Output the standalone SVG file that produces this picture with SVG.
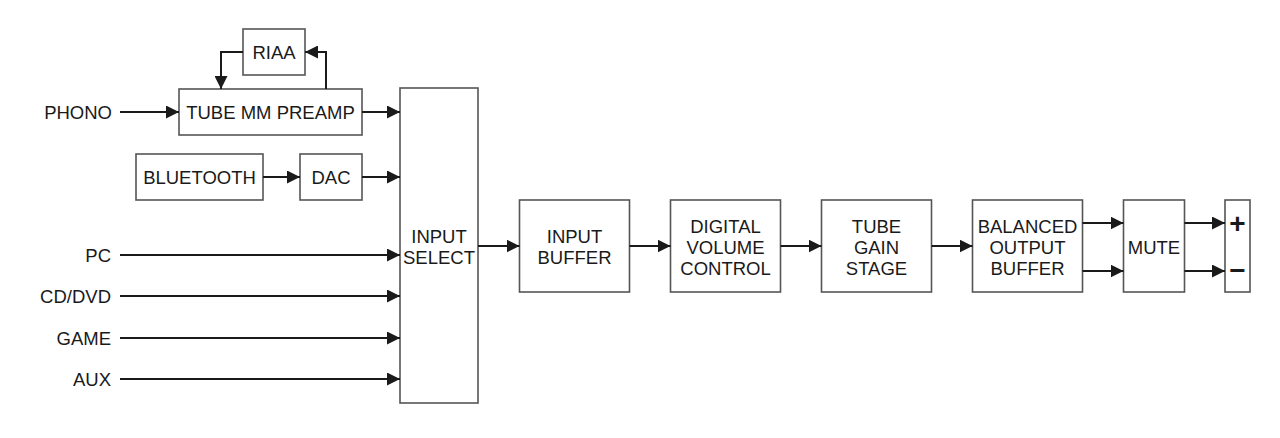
<svg xmlns="http://www.w3.org/2000/svg" width="1280" height="438" viewBox="0 0 1280 438">
<style>
.box{fill:#fff;stroke:#555;stroke-width:1.6}
.t{font-family:"Liberation Sans",Arial,sans-serif;font-size:18.5px;fill:#1a1a1a;text-anchor:middle;dominant-baseline:central}
.l{font-family:"Liberation Sans",Arial,sans-serif;font-size:18.5px;fill:#1a1a1a;text-anchor:end;dominant-baseline:central}
.pm{font-family:"Liberation Sans",Arial,sans-serif;font-size:28px;font-weight:bold;fill:#1a1a1a;text-anchor:middle;dominant-baseline:central}
.c{fill:none;stroke:#1a1a1a;stroke-width:2}
</style>
<defs>
<marker id="ah" markerUnits="userSpaceOnUse" markerWidth="14" markerHeight="13" refX="13" refY="6.5" orient="auto">
<path d="M0,0 L13,6.5 L0,13 Z" fill="#1a1a1a"/>
</marker>
</defs>
<rect width="1280" height="438" fill="#fff"/>
<g id="labels">
<text class="l" x="112" y="112">PHONO</text>
<text class="l" x="111" y="255">PC</text>
<text class="l" x="111" y="296">CD/DVD</text>
<text class="l" x="111" y="338">GAME</text>
<text class="l" x="111" y="379">AUX</text>
</g>
<g id="riaa"><rect class="box" x="243" y="29" width="62" height="46"/><text class="t" x="274" y="52">RIAA</text></g>
<g id="preamp"><rect class="box" x="179" y="89" width="183" height="46"/><text class="t" x="270.5" y="112">TUBE MM PREAMP</text></g>
<g id="bluetooth"><rect class="box" x="136" y="154" width="127" height="46"/><text class="t" x="199.5" y="177">BLUETOOTH</text></g>
<g id="dac"><rect class="box" x="300" y="154" width="62" height="46"/><text class="t" x="331" y="177">DAC</text></g>
<g id="input-select"><rect class="box" x="400" y="88" width="78" height="315"/><text class="t" x="439" y="236">INPUT</text><text class="t" x="439" y="257">SELECT</text></g>
<g id="input-buffer"><rect class="box" x="519.5" y="200" width="110" height="92"/><text class="t" x="574.5" y="236">INPUT</text><text class="t" x="574.5" y="257">BUFFER</text></g>
<g id="digital-volume"><rect class="box" x="670.5" y="200" width="110" height="92"/><text class="t" x="725.5" y="226">DIGITAL</text><text class="t" x="725.5" y="247">VOLUME</text><text class="t" x="725.5" y="268">CONTROL</text></g>
<g id="tube-gain"><rect class="box" x="821.5" y="200" width="110" height="92"/><text class="t" x="876.5" y="226">TUBE</text><text class="t" x="876.5" y="247">GAIN</text><text class="t" x="876.5" y="268">STAGE</text></g>
<g id="balanced"><rect class="box" x="972.5" y="200" width="110" height="92"/><text class="t" x="1027.5" y="226">BALANCED</text><text class="t" x="1027.5" y="247">OUTPUT</text><text class="t" x="1027.5" y="268">BUFFER</text></g>
<g id="mute"><rect class="box" x="1123.5" y="200" width="61" height="92"/><text class="t" x="1154" y="247">MUTE</text></g>
<g id="output"><rect class="box" x="1225" y="200" width="25" height="92"/><text class="pm" x="1237.5" y="223">+</text><text class="pm" x="1237.5" y="270">−</text></g>
<g id="connectors">
<path class="c" d="M120,112 H179" marker-end="url(#ah)"/>
<path class="c" d="M243,52 H221 V89" marker-end="url(#ah)"/>
<path class="c" d="M326,89 V52 H305" marker-end="url(#ah)"/>
<path class="c" d="M362,112 H400" marker-end="url(#ah)"/>
<path class="c" d="M263,177 H300" marker-end="url(#ah)"/>
<path class="c" d="M362,177 H400" marker-end="url(#ah)"/>
<path class="c" d="M120,255 H400" marker-end="url(#ah)"/>
<path class="c" d="M120,296 H400" marker-end="url(#ah)"/>
<path class="c" d="M120,338 H400" marker-end="url(#ah)"/>
<path class="c" d="M120,379 H400" marker-end="url(#ah)"/>
<path class="c" d="M478,246 H519.5" marker-end="url(#ah)"/>
<path class="c" d="M629.5,246 H670.5" marker-end="url(#ah)"/>
<path class="c" d="M780.5,246 H821.5" marker-end="url(#ah)"/>
<path class="c" d="M931.5,246 H972.5" marker-end="url(#ah)"/>
<path class="c" d="M1082.5,223 H1123.5" marker-end="url(#ah)"/>
<path class="c" d="M1082.5,271 H1123.5" marker-end="url(#ah)"/>
<path class="c" d="M1184.5,223 H1225" marker-end="url(#ah)"/>
<path class="c" d="M1184.5,271 H1225" marker-end="url(#ah)"/>
</g>
</svg>
